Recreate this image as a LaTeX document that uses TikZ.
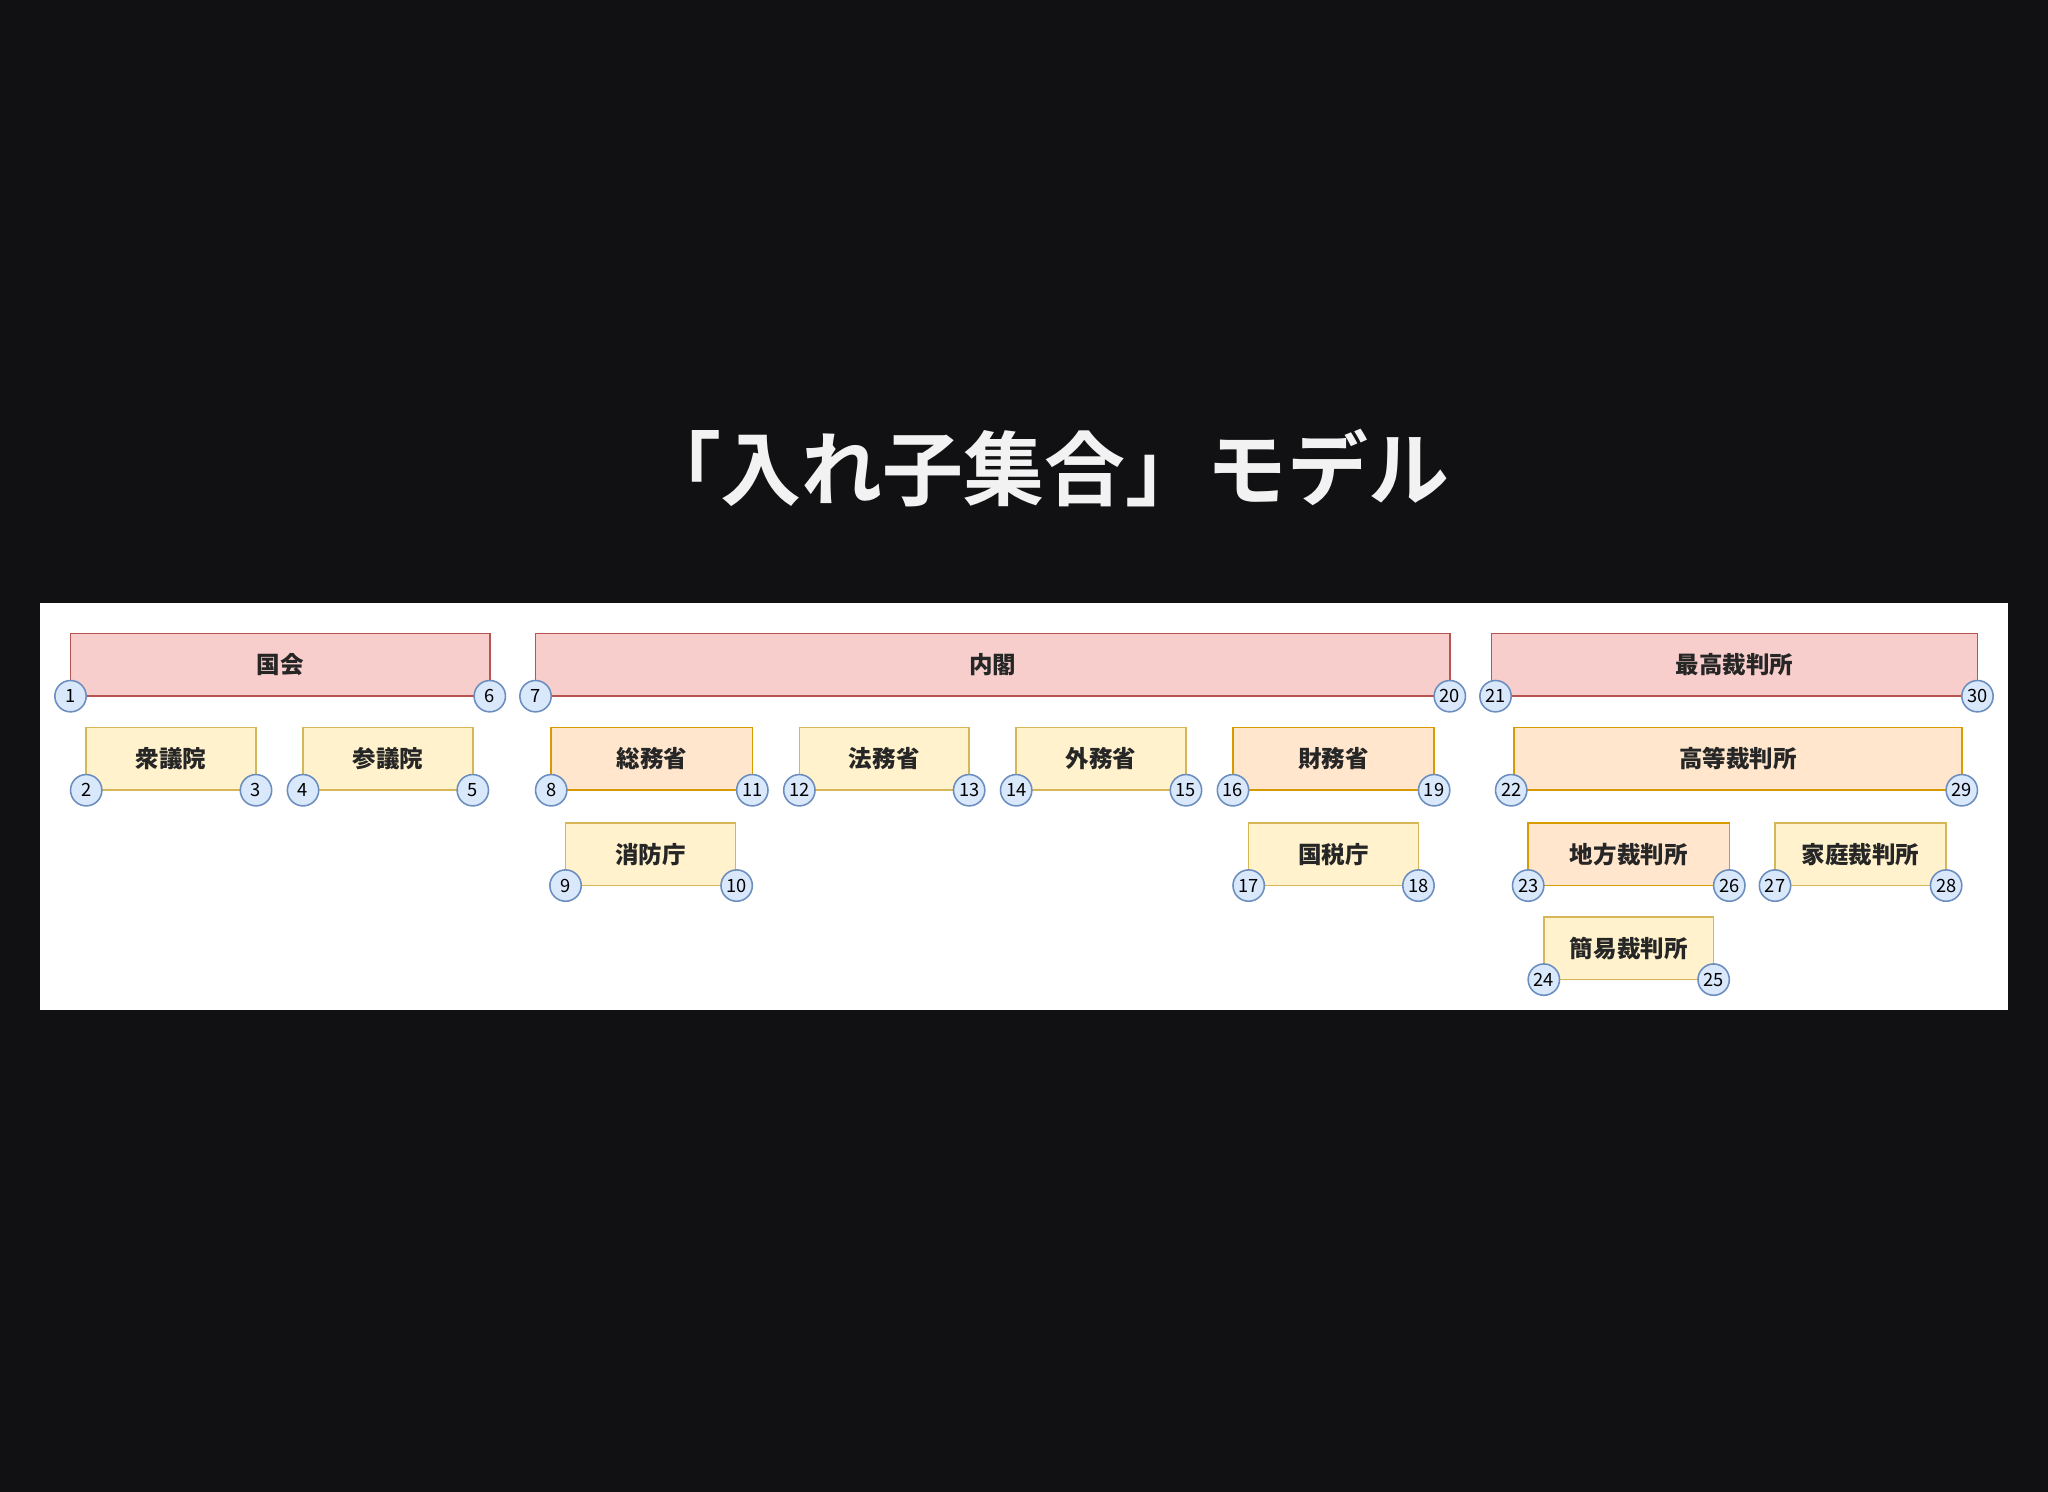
\documentclass[tikz,border=0pt]{standalone}
\usepackage{fontspec}
\setmainfont{Noto Sans CJK JP}
\newfontfamily\jpb{Noto Sans CJK JP Bold}
\definecolor{bg}{HTML}{111113}
\definecolor{rf}{HTML}{F8CECC}\definecolor{rd}{HTML}{B85450}
\definecolor{yf}{HTML}{FFF2CC}\definecolor{yd}{HTML}{D6B656}
\definecolor{of}{HTML}{FFE6CC}\definecolor{od}{HTML}{D79B00}
\definecolor{cf}{HTML}{DAE8FC}\definecolor{cd}{HTML}{6C8EBF}
\tikzset{
 setbox/.style={draw=#1d,fill=#1f,line width=0.6pt},
 lbl/.style={font=\fontsize{9}{9}\selectfont\bfseries,text=black!85},
 num/.style={circle,draw=cd,fill=cf,line width=0.6pt,minimum size=12pt,inner sep=0pt,font=\fontsize{7}{7}\selectfont,text=black}
}
\newcommand\setrect[7]{% name,color,x1,y1,x2,y2,label
 \draw[setbox=#2] (#3,#4) rectangle (#5,#6);
 \node[lbl] (#1) at ({(#3+#5)/2},{(#4+#6)/2}) {#7};}
\newcommand\nums[5]{%
 \node[num] (n#4) at (#1,#3) {#4};
 \node[num] (n#5) at (#2,#3) {#5};}
\begin{document}
\begin{tikzpicture}[x=0.5pt,y=-0.5pt]
\fill[bg] (0,0) rectangle (1568,1142);
\useasboundingbox (0,0) rectangle (1568,1142);
\node[font=\fontsize{31}{31}\selectfont\jpb,text=white!95!black] (title) at (800,358) {「入れ子集合」モデル};
\fill[white] (31,462) rectangle (1537,773);
% row 1
\setrect{kokkai}{r}{54}{485}{375}{533}{国会}\nums{54}{375}{533}{1}{6}
\setrect{naikaku}{r}{410}{485}{1110}{533}{内閣}\nums{410}{1110}{533}{7}{20}
\setrect{saiko}{r}{1142}{485}{1514}{533}{最高裁判所}\nums{1145}{1514}{533}{21}{30}
% row 2
\setrect{shugi}{y}{66}{557}{196}{605}{衆議院}\nums{66}{196}{605}{2}{3}
\setrect{sangi}{y}{232}{557}{362}{605}{参議院}\nums{232}{362}{605}{4}{5}
\setrect{somu}{o}{422}{557}{576}{605}{総務省}\nums{422}{576}{605}{8}{11}
\setrect{homu}{y}{612}{557}{742}{605}{法務省}\nums{612}{742}{605}{12}{13}
\setrect{gaimu}{y}{778}{557}{908}{605}{外務省}\nums{778}{908}{605}{14}{15}
\setrect{zaimu}{o}{944}{557}{1098}{605}{財務省}\nums{944}{1098}{605}{16}{19}
\setrect{koto}{o}{1159}{557}{1502}{605}{高等裁判所}\nums{1157}{1502}{605}{22}{29}
% row 3
\setrect{shobo}{y}{433}{630}{563}{678}{消防庁}\nums{433}{564}{678}{9}{10}
\setrect{kokuzei}{y}{956}{630}{1086}{678}{国税庁}\nums{956}{1086}{678}{17}{18}
\setrect{chiho}{o}{1170}{630}{1324}{678}{地方裁判所}\nums{1170}{1324}{678}{23}{26}
\setrect{katei}{y}{1359}{630}{1490}{678}{家庭裁判所}\nums{1359}{1490}{678}{27}{28}
% row 4
\setrect{kan}{y}{1182}{702}{1312}{750}{簡易裁判所}\nums{1182}{1312}{750}{24}{25}
\end{tikzpicture}
\end{document}
